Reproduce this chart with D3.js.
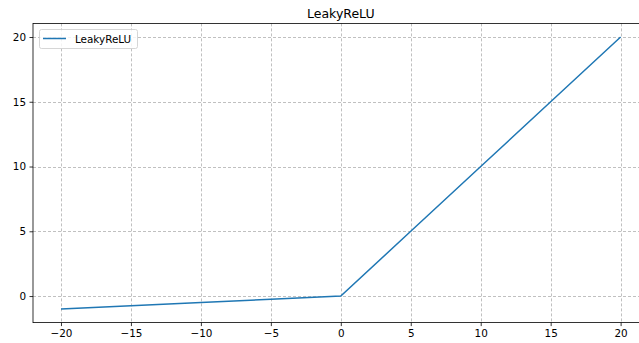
<!DOCTYPE html>
<html><head><meta charset="utf-8">
<script src="https://cdn.jsdelivr.net/npm/d3@7"></script>
<style>body{margin:0;background:#fff}svg{display:block}text{font-family:"DejaVu Sans",sans-serif;fill:#000}</style>
</head><body><svg id="c" width="639" height="343"></svg>
<script>
const xs = [-20, -15, -10, -5, 0, 5, 10, 15, 20];
const ys = [-1, -0.75, -0.5, -0.25, 0, 5, 10, 15, 20];
const xTicks = [-20, -15, -10, -5, 0, 5, 10, 15, 20];
const yTicks = [0, 5, 10, 15, 20];
const title = "LeakyReLU";
const seriesName = "LeakyReLU";

const svg = d3.select("#c");
const L = 33, R = 648.6, T = 23.4, B = 322.6;
const x = d3.scaleLinear().domain([-22, 22]).range([L, R]);
const y = d3.scaleLinear().domain([-2.05, 21.05]).range([B, T]);
const fmt = d => (d < 0 ? "\u2212" + Math.abs(d) : "" + d);

// grid
const g = svg.append("g");
g.selectAll(".gx").data(xTicks).enter().append("line")
  .attr("x1", d => Math.round(x(d)) + 0.5).attr("x2", d => Math.round(x(d)) + 0.5)
  .attr("y1", T).attr("y2", B)
  .attr("stroke", "#b0b0b0").attr("stroke-width", 0.8).attr("stroke-dasharray", "3,2");
g.selectAll(".gy").data(yTicks).enter().append("line")
  .attr("y1", d => Math.round(y(d)) + 0.5).attr("y2", d => Math.round(y(d)) + 0.5)
  .attr("x1", L).attr("x2", R)
  .attr("stroke", "#b0b0b0").attr("stroke-width", 0.8).attr("stroke-dasharray", "3,2");

// line
svg.append("path").datum(xs.map((v, i) => [v, ys[i]]))
  .attr("d", d3.line().x(d => x(d[0])).y(d => y(d[1])))
  .attr("fill", "none").attr("stroke", "#1f77b4").attr("stroke-width", 1.5);

// axes
const xa = svg.append("g").attr("transform", `translate(0,${B})`)
  .call(d3.axisBottom(x).tickValues(xTicks).tickFormat(fmt).tickSize(3.5).tickPadding(3.5));
const ya = svg.append("g").attr("transform", `translate(${L},0)`)
  .call(d3.axisLeft(y).tickValues(yTicks).tickFormat(fmt).tickSize(3.5).tickPadding(3.5));
[xa, ya].forEach(a => {
  a.select(".domain").remove();
  a.selectAll("line").attr("stroke", "#000").attr("stroke-width", 0.8);
  a.selectAll("text").attr("font-size", 10.4).attr("font-family", "DejaVu Sans").attr("fill", "#000");
});

// spines
svg.append("rect").attr("x", L).attr("y", T).attr("width", R - L).attr("height", B - T)
  .attr("fill", "none").attr("stroke", "#000").attr("stroke-width", 0.8);

// title
svg.append("text").attr("x", (L + R) / 2).attr("y", T - 5.5).attr("text-anchor", "middle")
  .attr("font-size", 12.5).text(title);

// legend
const lg = svg.append("g");
lg.append("rect").attr("x", 39.5).attr("y", 29.5).attr("width", 98).attr("height", 19).attr("rx", 2)
  .attr("fill", "#fff").attr("fill-opacity", 0.8).attr("stroke", "#cccccc").attr("stroke-width", 0.8);
lg.append("line").attr("x1", 43).attr("x2", 66).attr("y1", 38.5).attr("y2", 38.5)
  .attr("stroke", "#1f77b4").attr("stroke-width", 1.5);
lg.append("text").attr("x", 75).attr("y", 42.5).attr("font-size", 10.4).text(seriesName);
</script></body></html>
